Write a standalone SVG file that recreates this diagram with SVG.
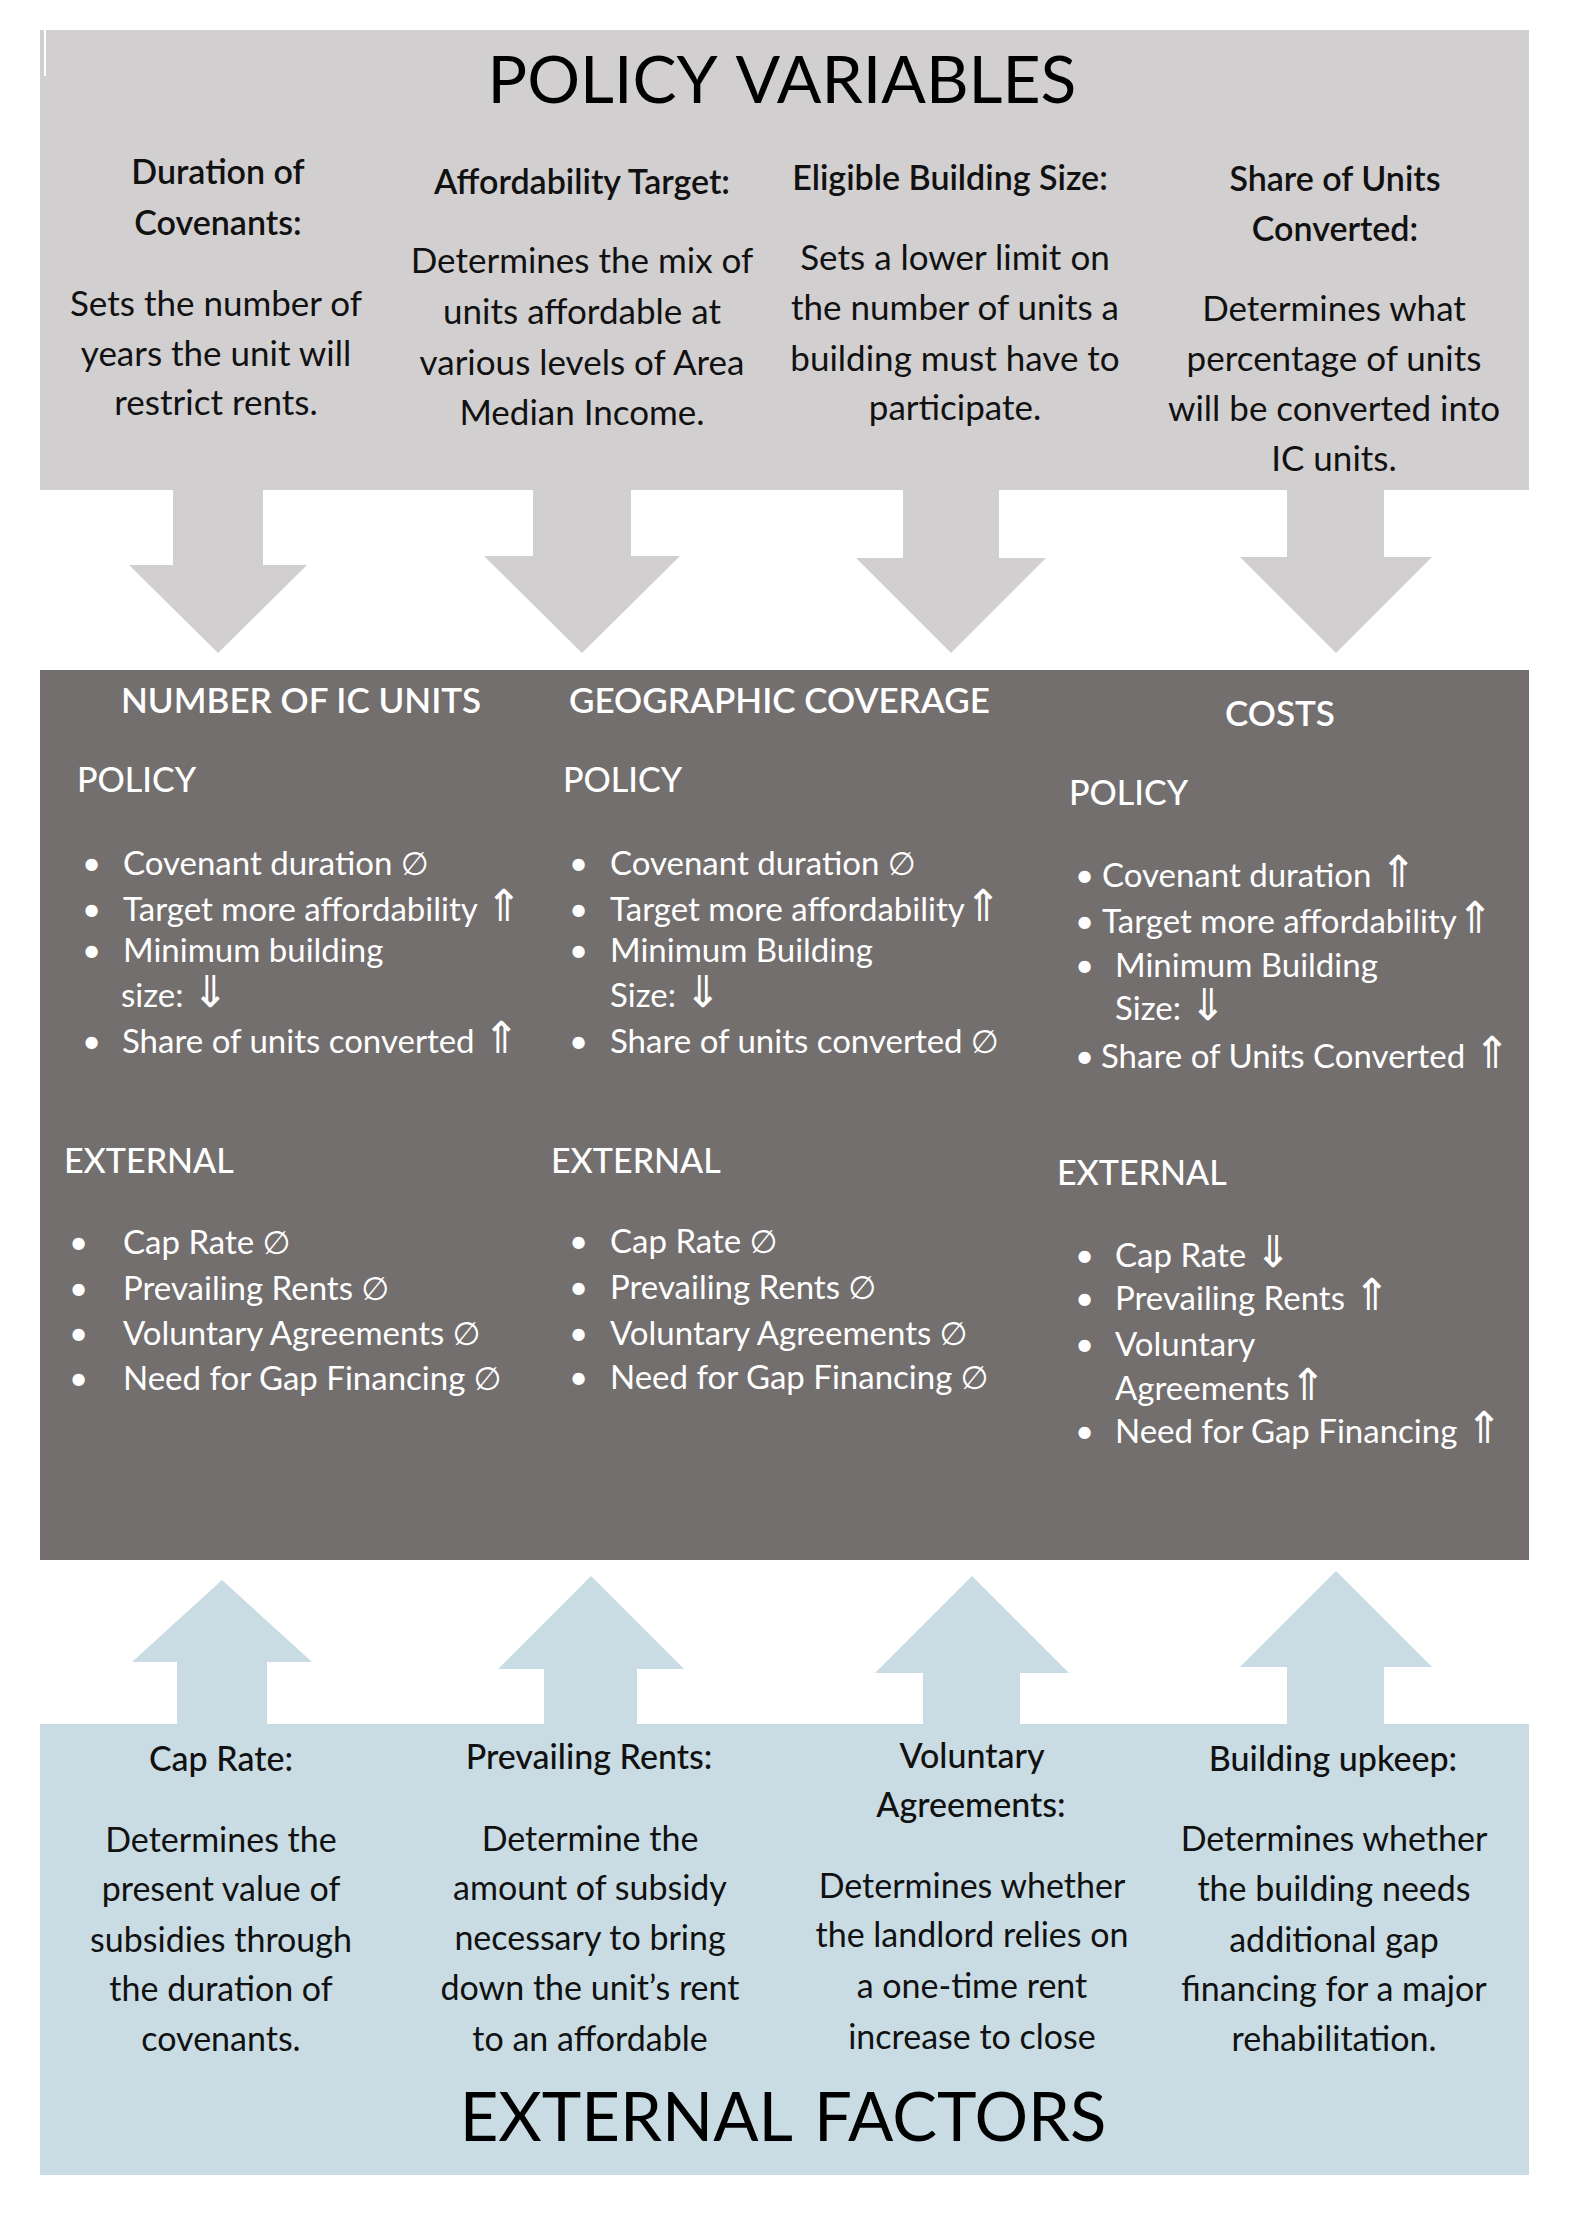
<svg xmlns="http://www.w3.org/2000/svg" width="1582" height="2228" viewBox="0 0 1582 2228">
<style>
text{font-family:Lato,"Liberation Sans","DejaVu Sans",sans-serif}
.title{font-size:66px;fill:#000;word-spacing:6px}
.ph{font-size:34px;font-weight:600;fill:#111;text-anchor:middle}
.pb{font-size:35px;fill:#111;text-anchor:middle}
.eh{font-size:34px;font-weight:500;fill:#111;text-anchor:middle}
.eb{font-size:34px;fill:#111;text-anchor:middle}
.dh{font-size:35px;font-weight:600;fill:#fff}
.ds{font-size:34px;font-weight:500;fill:#fff}
.di{font-size:33px;fill:#fff}
.ar{font-family:"DejaVu Sans",sans-serif;font-size:32px}
.au{font-family:"DejaVu Sans",sans-serif;font-size:44px}
.grey{fill:#D1CFD0}
.dark{fill:#736F6E}
.blue{fill:#C9DCE3}
</style>
<rect width="1582" height="2228" fill="#fff"/>

<g id="connectors">
<polygon class="grey" points="173,488 263,488 263,565 307,565 218,653 129,565 173,565"/>
<polygon class="grey" points="533,488 631,488 631,556 680,556 582,653 484,556 533,556"/>
<polygon class="grey" points="903,488 999,488 999,558 1046,558 951,653 856,558 903,558"/>
<polygon class="grey" points="1287,488 1384,488 1384,557 1432,557 1336,653 1240,557 1287,557"/>
<polygon class="blue" points="177,1728 267,1728 267,1662 312,1662 222,1580 132,1662 177,1662"/>
<polygon class="blue" points="544,1728 637,1728 637,1669 684,1669 591,1576 498,1669 544,1669"/>
<polygon class="blue" points="923,1728 1020,1728 1020,1673 1069,1673 972,1576 875,1673 923,1673"/>
<polygon class="blue" points="1287,1728 1384,1728 1384,1667 1432,1667 1336,1571 1240,1667 1287,1667"/>
</g>

<g id="policy-variables">
<rect class="grey" x="40" y="30" width="1489" height="460"/>
<rect x="44" y="30" width="2" height="46" fill="#fff"/>
<text class="title" x="782" y="103" text-anchor="middle">POLICY VARIABLES</text>
</g>

<g id="pv-duration">
<text class="ph" x="218" y="184">Duration of</text>
<text class="ph" x="218" y="235">Covenants:</text>
<text class="pb" x="216" y="316">Sets the number of</text>
<text class="pb" x="216" y="366">years the unit will</text>
<text class="pb" x="216" y="415">restrict rents.</text>
</g>

<g id="pv-affordability">
<text class="ph" x="582" y="194">Affordability Target:</text>
<text class="pb" x="582" y="273">Determines the mix of</text>
<text class="pb" x="582" y="324">units affordable at</text>
<text class="pb" x="582" y="375">various levels of Area</text>
<text class="pb" x="582" y="425">Median Income.</text>
</g>

<g id="pv-size">
<text class="ph" x="950" y="190">Eligible Building Size:</text>
<text class="pb" x="955" y="270">Sets a lower limit on</text>
<text class="pb" x="955" y="320">the number of units a</text>
<text class="pb" x="955" y="371">building must have to</text>
<text class="pb" x="955" y="420">participate.</text>
</g>

<g id="pv-share">
<text class="ph" x="1335" y="191">Share of Units</text>
<text class="ph" x="1335" y="241">Converted:</text>
<text class="pb" x="1334" y="321">Determines what</text>
<text class="pb" x="1334" y="371">percentage of units</text>
<text class="pb" x="1334" y="421">will be converted into</text>
<text class="pb" x="1334" y="471">IC units.</text>
</g>

<g id="impacts">
<rect class="dark" x="40" y="670" width="1489" height="890"/>
</g>

<g id="impact-units">
<text class="dh" x="121" y="713">NUMBER OF IC UNITS</text>
<text class="ds" x="77" y="792">POLICY</text>
<text class="di" x="82" y="875">•</text><text class="di" x="123" y="875">Covenant duration <tspan class="ar">∅</tspan></text>
<text class="di" x="82" y="921">•</text><text class="di" x="123" y="921">Target more affordability <tspan class="au">⇑</tspan></text>
<text class="di" x="82" y="962">•</text><text class="di" x="123" y="962">Minimum building</text>
<text class="di" x="121" y="1007">size: <tspan class="au">⇓</tspan></text>
<text class="di" x="82" y="1053">•</text><text class="di" x="122" y="1053">Share of units converted  <tspan class="au">⇑</tspan></text>
<text class="ds" x="64" y="1173">EXTERNAL</text>
<text class="di" x="69" y="1254">•</text><text class="di" x="123" y="1254">Cap Rate <tspan class="ar">∅</tspan></text>
<text class="di" x="69" y="1300">•</text><text class="di" x="123" y="1300">Prevailing Rents <tspan class="ar">∅</tspan></text>
<text class="di" x="69" y="1345">•</text><text class="di" x="123" y="1345">Voluntary Agreements <tspan class="ar">∅</tspan></text>
<text class="di" x="69" y="1390">•</text><text class="di" x="123" y="1390">Need for Gap Financing <tspan class="ar">∅</tspan></text>
</g>

<g id="impact-coverage">
<text class="dh" x="569" y="713">GEOGRAPHIC COVERAGE</text>
<text class="ds" x="563" y="792">POLICY</text>
<text class="di" x="569" y="875">•</text><text class="di" x="610" y="875">Covenant duration <tspan class="ar">∅</tspan></text>
<text class="di" x="569" y="921">•</text><text class="di" x="610" y="921">Target more affordability<tspan class="au">⇑</tspan></text>
<text class="di" x="569" y="962">•</text><text class="di" x="610" y="962">Minimum Building</text>
<text class="di" x="610" y="1007">Size: <tspan class="au">⇓</tspan></text>
<text class="di" x="569" y="1053">•</text><text class="di" x="610" y="1053">Share of units converted <tspan class="ar">∅</tspan></text>
<text class="ds" x="551" y="1173">EXTERNAL</text>
<text class="di" x="569" y="1253">•</text><text class="di" x="610" y="1253">Cap Rate <tspan class="ar">∅</tspan></text>
<text class="di" x="569" y="1299">•</text><text class="di" x="610" y="1299">Prevailing Rents <tspan class="ar">∅</tspan></text>
<text class="di" x="569" y="1345">•</text><text class="di" x="610" y="1345">Voluntary Agreements <tspan class="ar">∅</tspan></text>
<text class="di" x="569" y="1389">•</text><text class="di" x="610" y="1389">Need for Gap Financing <tspan class="ar">∅</tspan></text>
</g>

<g id="impact-costs">
<text class="dh" x="1280" y="726" text-anchor="middle">COSTS</text>
<text class="ds" x="1069" y="805">POLICY</text>
<text class="di" x="1075" y="887">•</text><text class="di" x="1102" y="887">Covenant duration <tspan class="au">⇑</tspan></text>
<text class="di" x="1075" y="933">•</text><text class="di" x="1102" y="933">Target more affordability<tspan class="au">⇑</tspan></text>
<text class="di" x="1075" y="977">•</text><text class="di" x="1115" y="977">Minimum Building</text>
<text class="di" x="1115" y="1020">Size: <tspan class="au">⇓</tspan></text>
<text class="di" x="1075" y="1068">•</text><text class="di" x="1101" y="1068">Share of Units Converted <tspan class="au">⇑</tspan></text>
<text class="ds" x="1057" y="1185">EXTERNAL</text>
<text class="di" x="1075" y="1267">•</text><text class="di" x="1115" y="1267">Cap Rate <tspan class="au">⇓</tspan></text>
<text class="di" x="1075" y="1310">•</text><text class="di" x="1115" y="1310">Prevailing Rents <tspan class="au">⇑</tspan></text>
<text class="di" x="1075" y="1356">•</text><text class="di" x="1115" y="1356">Voluntary</text>
<text class="di" x="1115" y="1400">Agreements<tspan class="au">⇑</tspan></text>
<text class="di" x="1075" y="1443">•</text><text class="di" x="1115" y="1443">Need for Gap Financing <tspan class="au">⇑</tspan></text>
</g>

<g id="external-factors">
<rect class="blue" x="40" y="1724" width="1489" height="451"/>
<text class="title" x="783" y="2141" text-anchor="middle" style="font-size:67px">EXTERNAL FACTORS</text>
</g>

<g id="ef-cap-rate">
<text class="eh" x="221" y="1771">Cap Rate:</text>
<text class="eb" x="221" y="1852">Determines the</text>
<text class="eb" x="221" y="1901">present value of</text>
<text class="eb" x="221" y="1952">subsidies through</text>
<text class="eb" x="221" y="2001">the duration of</text>
<text class="eb" x="221" y="2051">covenants.</text>
</g>

<g id="ef-rents">
<text class="eh" x="589" y="1769">Prevailing Rents:</text>
<text class="eb" x="590" y="1851">Determine the</text>
<text class="eb" x="590" y="1900">amount of subsidy</text>
<text class="eb" x="590" y="1950">necessary to bring</text>
<text class="eb" x="590" y="2000">down the unit’s rent</text>
<text class="eb" x="590" y="2051">to an affordable</text>
</g>

<g id="ef-voluntary">
<text class="eh" x="972" y="1768">Voluntary</text>
<text class="eh" x="971" y="1817">Agreements:</text>
<text class="eb" x="972" y="1898">Determines whether</text>
<text class="eb" x="972" y="1947">the landlord relies on</text>
<text class="eb" x="972" y="1998">a one-time rent</text>
<text class="eb" x="972" y="2049">increase to close</text>
</g>

<g id="ef-upkeep">
<text class="eh" x="1333" y="1771">Building upkeep:</text>
<text class="eb" x="1334" y="1851">Determines whether</text>
<text class="eb" x="1334" y="1901">the building needs</text>
<text class="eb" x="1334" y="1952">additional gap</text>
<text class="eb" x="1334" y="2001">financing for a major</text>
<text class="eb" x="1334" y="2051">rehabilitation.</text>
</g>
</svg>
